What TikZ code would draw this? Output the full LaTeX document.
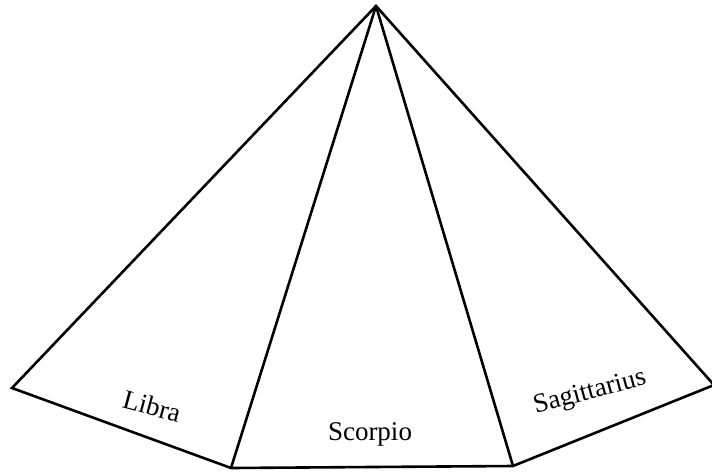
\documentclass[tikz,border=0pt]{standalone}
\usepackage{fontspec}
\setmainfont{Liberation Serif}
\begin{document}
\begin{tikzpicture}[x=1pt,y=-1pt,
  edge/.style={line width=2.6pt,line join=miter,line cap=butt},
  lab/.style={font=\fontsize{27}{32}\selectfont,inner sep=0pt}]
\useasboundingbox (0,0) rectangle (712,472);
\begin{scope}
\clip (0,0) rectangle (712,472);
\coordinate (apex) at (376,6);
\coordinate (L) at (12,388);
\coordinate (BL) at (231,468);
\coordinate (BR) at (513,466);
\coordinate (R) at (714,385);
\draw[edge] (apex) -- (L) -- (BL) -- (BR) -- (R) -- cycle;
\draw[edge] (apex) -- (BL);
\draw[edge] (apex) -- (BR);
\end{scope}
\node[lab,rotate=-15] (libra) at (152,406) {Libra};
\node[lab] (scorpio) at (370,434) {Scorpio};
\node[lab,rotate=15] (sagittarius) at (590,393) {Sagittarius};
\end{tikzpicture}
\end{document}
